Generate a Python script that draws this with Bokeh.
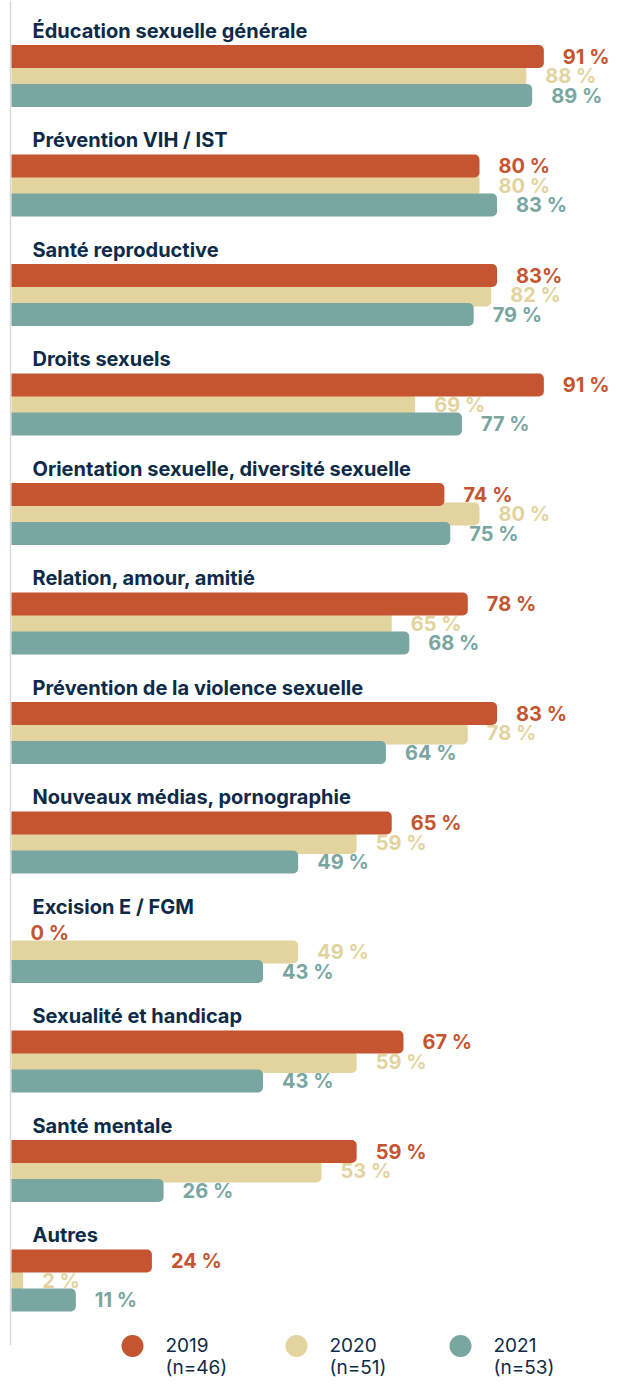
from bokeh.plotting import figure
from bokeh.models import Range1d, ColumnDataSource
from bokeh.core.properties import value
from bokeh.embed import file_html
from bokeh.resources import INLINE

# ---------------- data ----------------
categories = [
    "Éducation sexuelle générale",
    "Prévention VIH / IST",
    "Santé reproductive",
    "Droits sexuels",
    "Orientation sexuelle, diversité sexuelle",
    "Relation, amour, amitié",
    "Prévention de la violence sexuelle",
    "Nouveaux médias, pornographie",
    "Excision E / FGM",
    "Sexualité et handicap",
    "Santé mentale",
    "Autres",
]
v2019 = [91, 80, 83, 91, 74, 78, 83, 65, 0, 67, 59, 24]
v2020 = [88, 80, 82, 69, 80, 65, 78, 59, 49, 59, 53, 2]
v2021 = [89, 83, 79, 77, 75, 68, 64, 49, 43, 43, 26, 11]
lab2019 = ["91 %", "80 %", "83%", "91 %", "74 %", "78 %", "83 %", "65 %", "0 %", "67 %", "59 %", "24 %"]
lab2020 = ["88 %", "80 %", "82 %", "69 %", "80 %", "65 %", "78 %", "59 %", "49 %", "59 %", "53 %", "2 %"]
lab2021 = ["89 %", "83 %", "79 %", "77 %", "75 %", "68 %", "64 %", "49 %", "43 %", "43 %", "26 %", "11 %"]
years = ["2019", "2020", "2021"]
counts = ["(n=46)", "(n=51)", "(n=53)"]

# ---------------- style ----------------
C2019 = "#C55530"
C2020 = "#E3D49F"
C2021 = "#79A6A1"
NAVY = "#0D2B47"
FONT = "Inter"

W, H = 612, 1382
K = 5.85            # pixels per percent
X0 = 11             # pixel of value 0

p = figure(width=W, height=H, output_backend="svg", toolbar_location=None,
           x_range=Range1d(-X0 / K, (W - X0) / K),
           y_range=Range1d(H, 0),
           min_border=0, outline_line_color=None)
p.xaxis.visible = False
p.yaxis.visible = False
p.xgrid.visible = False
p.ygrid.visible = False
p.background_fill_color = "white"

PITCH = 109.5
TITLE0 = 30
n = len(categories)
title_y = [TITLE0 + i * PITCH for i in range(n)]
y19 = [t + 26.0 for t in title_y]
y20 = [t + 45.5 for t in title_y]
y21 = [t + 65.0 for t in title_y]
BAR_H = 23

# axis line
p.segment(x0=[-1 / K], x1=[-1 / K], y0=[0], y1=[y21[-1] + 45],
          line_color="#D9D9D9", line_width=1.5)

src = ColumnDataSource(dict(cat=categories, ty=title_y, y19=y19, y20=y20, y21=y21,
                            v19=v2019, v20=v2020, v21=v2021,
                            l19=lab2019, l20=lab2020, l21=lab2021,
                            zero=[0] * n))

# bars (2020 beneath, then 2019, then 2021)
for yk, vk, col in [("y20", "v20", C2020), ("y19", "v19", C2019), ("y21", "v21", C2021)]:
    p.hbar(y=yk, left="zero", right=vk, height=BAR_H, source=src,
           fill_color=col, line_color=None, border_radius=(0, 5, 5, 0))

# category titles
p.text(x="zero", y="ty", text="cat", source=src, x_offset=21,
       text_font=value(FONT), text_font_style="bold", text_font_size="20px",
       text_color=NAVY, text_align="left", text_baseline="middle")

# value labels
for yk, vk, lk, col in [("y20", "v20", "l20", C2020), ("y19", "v19", "l19", C2019),
                        ("y21", "v21", "l21", C2021)]:
    p.text(x=vk, y=yk, text=lk, source=src, x_offset=19,
           text_font=value(FONT), text_font_style="bold", text_font_size="20px",
           text_color=col, text_align="left", text_baseline="middle")

# legend (layout in pixels -> data)
leg_px = [132, 296, 460]
leg_x = [(px - X0) / K for px in leg_px]
leg_y = y21[-1] + 46
p.scatter(x=leg_x, y=[leg_y] * 3, size=22, marker="circle",
          fill_color=[C2019, C2020, C2021], line_color=None)
p.text(x=leg_x, y=[leg_y - 1] * 3, text=years, x_offset=33,
       text_font=value(FONT), text_font_size="19px", text_color=NAVY,
       text_align="left", text_baseline="middle")
p.text(x=leg_x, y=[leg_y + 21] * 3, text=counts, x_offset=33,
       text_font=value(FONT), text_font_size="19px", text_color=NAVY,
       text_align="left", text_baseline="middle")

open("out.html", "w").write(file_html(p, INLINE))
